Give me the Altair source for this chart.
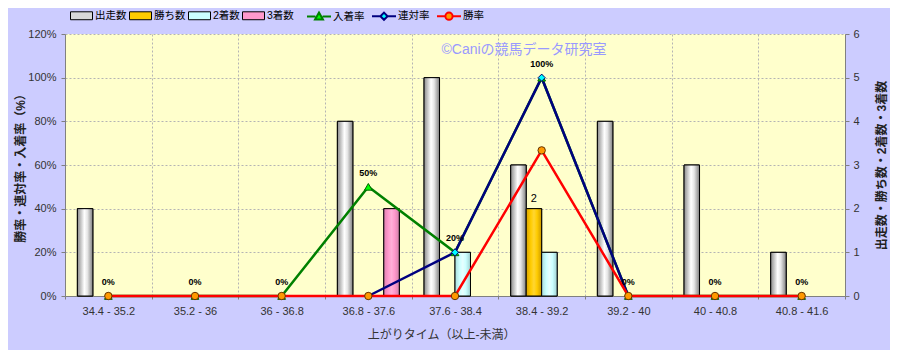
import altair as alt
import pandas as pd

# ---------------- data ----------------
categories = ["34.4 - 35.2", "35.2 - 36", "36 - 36.8", "36.8 - 37.6", "37.6 - 38.4",
              "38.4 - 39.2", "39.2 - 40", "40 - 40.8", "40.8 - 41.6"]
runs = [2, 0, 0, 4, 5, 3, 4, 3, 1]            # 出走数
wins = [0, 0, 0, 0, 0, 2, 0, 0, 0]            # 勝ち数
seconds = [0, 0, 0, 0, 1, 1, 0, 0, 0]         # 2着数
thirds = [0, 0, 0, 2, 0, 0, 0, 0, 0]          # 3着数
place_rate = [0, 0, 0, 50, 20, 100, 0, 0, 0]                   # 入着率 (%)
quinella_rate = [None, None, None, 0, 20, 100, 0, None, None]  # 連対率 (%)
win_rate = [0, 0, 0, 0, 0, 66.7, 0, 0, 0]                      # 勝率 (%)

bar_series = ["出走数", "勝ち数", "2着数", "3着数"]
bar_colors = ["#D9D9D9", "#FFCC00", "#CCFFFF", "#FF99CC"]
line_series = ["入着率", "連対率", "勝率"]
line_colors = ["#008000", "#000080", "#FF0000"]
marker_fills = ["#00FF00", "#00FFFF", "#FF9900"]
marker_strokes = ["#006400", "#000080", "#663300"]
marker_shapes = ["triangle-up", "diamond", "circle"]
marker_sizes = [60, 50, 55]

# ---------------- tables ----------------
bar_values = [runs, wins, seconds, thirds]
bar_rows = []
for s, vals in zip(bar_series, bar_values):
    for c, v in zip(categories, vals):
        if v > 0:
            bar_rows.append({"cat": c, "series": s, "count": v})
bars_df = pd.DataFrame(bar_rows)

line_values = [place_rate, quinella_rate, win_rate]
line_dfs = []
for s, vals in zip(line_series, line_values):
    line_dfs.append(pd.DataFrame([{"cat": c, "series": s, "rate": v}
                                  for c, v in zip(categories, vals) if v is not None]))

JP = "Liberation Sans, Noto Sans CJK JP"
GRID = "#B4B4B4"
AX = "#808080"
TXT = "#333333"

x_scale = alt.Scale(type="band", domain=categories, paddingInner=0, paddingOuter=0)
xoff_scale = alt.Scale(domain=bar_series, paddingInner=0, paddingOuter=0.8)

x_axis = alt.Axis(title="上がりタイム（以上-未満）", labelAngle=0, tickBand="extent",
                  grid=True, gridDash=[2, 2], gridColor=GRID, domainColor=AX,
                  tickColor=AX, tickSize=3, labelFontSize=11, labelColor=TXT,
                  labelPadding=6, labelFont=JP, titleFont=JP, titleFontSize=12,
                  titleFontWeight="normal", titleColor=TXT, titlePadding=13, titleX=376)

y_right = alt.Axis(orient="right", values=[0, 1, 2, 3, 4, 5, 6],
                   title="出走数・勝ち数・2着数・3着数", titleAngle=270, titleBaseline="top",
                   grid=False, domainColor=AX, tickColor=AX, tickSize=4,
                   labelPadding=4, labelAlign="left", labelBaseline="middle",
                   labelFont=JP, labelFontSize=11,
                   labelColor=TXT, titleFont=JP, titleFontSize=12, titleFontWeight="bold",
                   titleColor="#222222", titlePadding=17)

y_left = alt.Axis(orient="left", values=[0, 20, 40, 60, 80, 100, 120],
                  labelExpr="datum.value + '%'", title="勝率・連対率・入着率（%）",
                  grid=True, gridDash=[2, 2], gridColor=GRID, domainColor=AX,
                  tickColor=AX, tickSize=4, labelPadding=5, labelFont=JP,
                  labelFontSize=11, labelColor=TXT, titleFont=JP, titleFontSize=12,
                  titleFontWeight="bold", titleColor="#222222", titlePadding=0)

X = alt.X("cat:N", scale=x_scale, sort=categories, axis=x_axis)
XOFF = alt.XOffset("series:N", scale=xoff_scale, sort=bar_series)
Y_COUNT = alt.Y("count:Q", scale=alt.Scale(domain=[0, 6]), axis=y_right)
Y_RATE = alt.Y("rate:Q", scale=alt.Scale(domain=[0, 120]), axis=y_left)

# ---------------- bars (right axis) ----------------
bar_legend = alt.Legend(orient="none", legendX=5, legendY=-30, direction="horizontal",
                        columns=4, title=None, symbolType="M-1,-0.36H1V0.36H-1Z",
                        symbolSize=484, symbolStrokeColor="black", symbolStrokeWidth=1,
                        labelFont=JP, labelFontSize=10.5, labelColor="#000000",
                        labelOffset=2, columnPadding=0, padding=0, symbolOpacity=1)

base_bars = alt.Chart(bars_df).mark_bar(stroke="black", strokeWidth=1, opacity=1).encode(
    x=X, xOffset=XOFF, y=Y_COUNT,
    color=alt.Color("series:N", scale=alt.Scale(domain=bar_series, range=bar_colors),
                    legend=bar_legend),
)

gradients = {
    "出走数": [("#8C8C8C", 0), ("#FFFFFF", 0.45), ("#E6E6E6", 0.65), ("#7F7F7F", 1)],
    "勝ち数": [("#D9A300", 0), ("#FFCC00", 0.3), ("#FFD633", 0.5), ("#FFCC00", 0.7), ("#CC9900", 1)],
    "2着数": [("#A8DCDC", 0), ("#CCFFFF", 0.3), ("#E6FFFF", 0.5), ("#CCFFFF", 0.7), ("#A0D0D0", 1)],
    "3着数": [("#E080B0", 0), ("#FF99CC", 0.3), ("#FFB0D8", 0.5), ("#FF99CC", 0.7), ("#D080A8", 1)],
}
overlays = []
for s in bar_series:
    sub = bars_df[bars_df["series"] == s]
    if len(sub) == 0:
        continue
    grad = alt.LinearGradient(gradient="linear",
                              stops=[alt.GradientStop(color=c, offset=o) for c, o in gradients[s]],
                              x1=0, x2=1, y1=0, y2=0)
    overlays.append(alt.Chart(sub).mark_bar(fill=grad, stroke="black", strokeWidth=1).encode(
        x=X, xOffset=XOFF, y=Y_COUNT))

bar_label = alt.Chart(bars_df[bars_df["series"] == "勝ち数"]).mark_text(
    dy=-10, fontSize=11, font=JP, color="#000000").encode(
    x=X, xOffset=XOFF, y=Y_COUNT, text=alt.Text("count:Q"))

bars_layer = alt.layer(base_bars, *overlays, bar_label)

# ---------------- lines (left axis) ----------------
line_layers = []
for i, df in enumerate(line_dfs):
    line_layers.append(alt.Chart(df).mark_line(color=line_colors[i], strokeWidth=2.5).encode(
        x=X, y=Y_RATE))
marker_layers = []
for i, df in enumerate(line_dfs):
    marker_layers.append(alt.Chart(df).mark_point(
        shape=marker_shapes[i], filled=True, fill=marker_fills[i], stroke=marker_strokes[i],
        strokeWidth=1, size=marker_sizes[i], opacity=1).encode(x=X, y=Y_RATE))

rate_labels = alt.Chart(line_dfs[0]).mark_text(
    dy=-14, fontSize=9, fontWeight="bold", font="Liberation Sans", color="#000000").encode(
    x=X, y=Y_RATE, text=alt.Text("label:N"),
).transform_calculate(label="format(datum.rate, 'd') + '%'")

watermark = alt.Chart(pd.DataFrame({"t": ["©Caniの競馬データ研究室"]})).mark_text(
    fontSize=14, font=JP, color="#9999FF", align="center", baseline="middle").encode(
    x=alt.value(459), y=alt.value(16), text="t:N")

legend_paths = [
    "M-1,0H-0.3M0.3,0H1M0,-0.33L0.33,0.25L-0.33,0.25Z",
    "M-1,0H-0.3M0.3,0H1M0,-0.3L0.3,0L0,0.3L-0.3,0Z",
    "M-1,0H-0.3M0.3,0H1M-0.3,0A0.3,0.3,0,1,1,0.3,0A0.3,0.3,0,1,1,-0.3,0Z",
]
line_legend = alt.Legend(orient="none", legendX=241, legendY=-31, direction="horizontal",
                         columns=3, title=None, symbolSize=576, symbolStrokeWidth=2,
                         labelFont=JP, labelFontSize=10.5, labelColor="#000000",
                         labelOffset=1, columnPadding=3, padding=0, symbolOpacity=1)
legend_df = pd.DataFrame({"series": line_series, "cat": [categories[0]] * 3, "rate": [0, 0, 0]})
legend_layer = alt.Chart(legend_df).mark_point(filled=True, opacity=0, size=576).encode(
    x=X, y=Y_RATE,
    shape=alt.Shape("series:N", scale=alt.Scale(domain=line_series, range=legend_paths),
                    legend=line_legend),
    fill=alt.Fill("series:N", scale=alt.Scale(domain=line_series, range=marker_fills),
                  legend=line_legend),
    stroke=alt.Stroke("series:N", scale=alt.Scale(domain=line_series, range=line_colors),
                      legend=line_legend),
)

lines_layer = alt.layer(*line_layers, *marker_layers, rate_labels, watermark, legend_layer)

chart = alt.layer(bars_layer, lines_layer).resolve_scale(y="independent").properties(
    width=780, height=262,
    padding={"left": 57, "top": 26, "right": 45, "bottom": 54},
    autosize=alt.AutoSizeParams(type="none"),
    background="#CCCCFF",
).configure_view(fill="#FFFFCC", stroke=None)

chart.save("out.html", embed_options={"renderer": "svg", "actions": False})
